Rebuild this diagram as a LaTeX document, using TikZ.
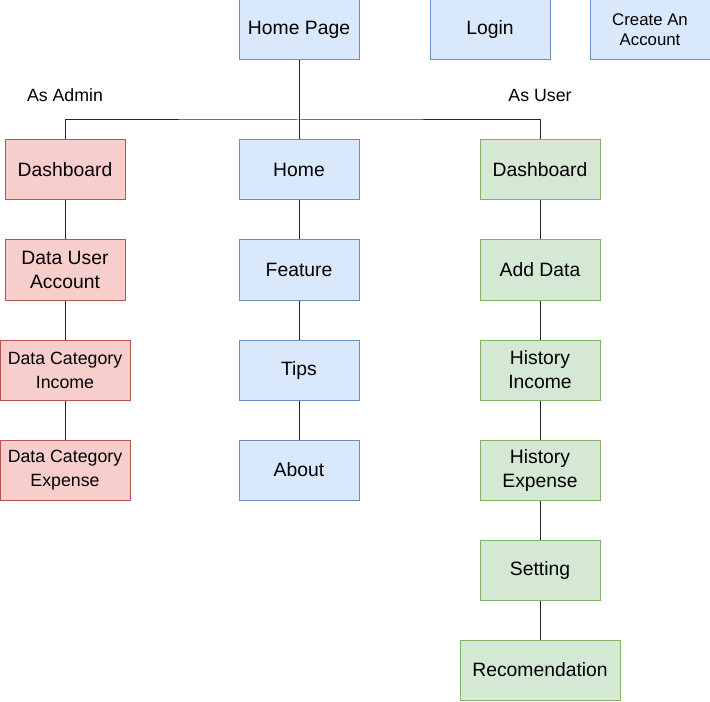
\documentclass[tikz,border=0pt]{standalone}
\usepackage{fontspec}
\setmainfont{Liberation Sans}
\usepackage{xcolor}
\usepackage{tikz}
\usetikzlibrary{calc, positioning}

\definecolor{bfill}{HTML}{DAE8FC}
\definecolor{bdraw}{HTML}{6C8EBF}
\definecolor{rfill}{HTML}{F8CECC}
\definecolor{rdraw}{HTML}{B85450}
\definecolor{gfill}{HTML}{D5E8D4}
\definecolor{gdraw}{HTML}{82B366}

\begin{document}
\begin{tikzpicture}[x=0.75pt, y=-0.75pt, font=\fontsize{14.5}{18}\selectfont]
		\tikzstyle{box} = [rectangle, minimum width=90pt, minimum height=45pt, inner sep=1pt, align=center, line width=0.75pt]
		\tikzstyle{bluebox} = [box, draw=bdraw, fill=bfill]
		\tikzstyle{redbox} = [box, draw=rdraw, fill=rfill]
		\tikzstyle{greenbox} = [box, draw=gdraw, fill=gfill]
		\tikzstyle{line} = [line width=0.75pt, draw=black!85]
		\tikzstyle{small} = [font=\fontsize{13.3}{18}\selectfont]
		\tikzstyle{tiny} = [font=\fontsize{12.6}{15}\selectfont]
		
		\useasboundingbox (0,0) rectangle (710,702);
		
		\node[bluebox]	at (299, 30)	(hp)	{Home Page};
		\node[bluebox]	at (490, 30)	(login)	{Login};
		\node[bluebox, tiny]	at (650, 30)	(create)	{Create An\\Account};
		
		\node[small]	at (65, 95)		(admin)	{As Admin};
		\node[small]	at (540, 95)	(user)	{As User};
		
		\node[redbox]	at (65, 170)	(adash)	{Dashboard};
		\node[redbox]	at (65, 270)	(aacc)	{Data User\\Account};
		\node[redbox, small, minimum width=97.5pt]	at (65, 370)	(ainc)	{Data Category\\Income};
		\node[redbox, small, minimum width=97.5pt]	at (65, 470)	(aexp)	{Data Category\\Expense};
		
		\node[bluebox]	at (299, 170)	(home)	{Home};
		\node[bluebox]	at (299, 270)	(feat)	{Feature};
		\node[bluebox]	at (299, 370)	(tips)	{Tips};
		\node[bluebox]	at (299, 470)	(about)	{About};
		
		\node[greenbox]	at (540, 170)	(udash)	{Dashboard};
		\node[greenbox]	at (540, 270)	(uadd)	{Add Data};
		\node[greenbox]	at (540, 370)	(uinc)	{History\\Income};
		\node[greenbox]	at (540, 470)	(uexp)	{History\\Expense};
		\node[greenbox]	at (540, 570)	(uset)	{Setting};
		\node[greenbox, minimum width=120pt]	at (540, 670)	(urec)	{Recomendation};
		
		\coordinate (split) at (299, 120);
		
		\draw [line] (hp) -- (home);
		\draw [line] (adash) |- (split) -| (udash);
		
		\draw [line] (adash) -- (aacc);
		\draw [line] (aacc) -- (ainc);
		\draw [line] (ainc) -- (aexp);
		
		\draw [line] (home) -- (feat);
		\draw [line] (feat) -- (tips);
		\draw [line] (tips) -- (about);
		
		\draw [line] (udash) -- (uadd);
		\draw [line] (uadd) -- (uinc);
		\draw [line] (uinc) -- (uexp);
		\draw [line] (uexp) -- (uset);
		\draw [line] (uset) -- (urec);
		
	\end{tikzpicture}
\end{document}
